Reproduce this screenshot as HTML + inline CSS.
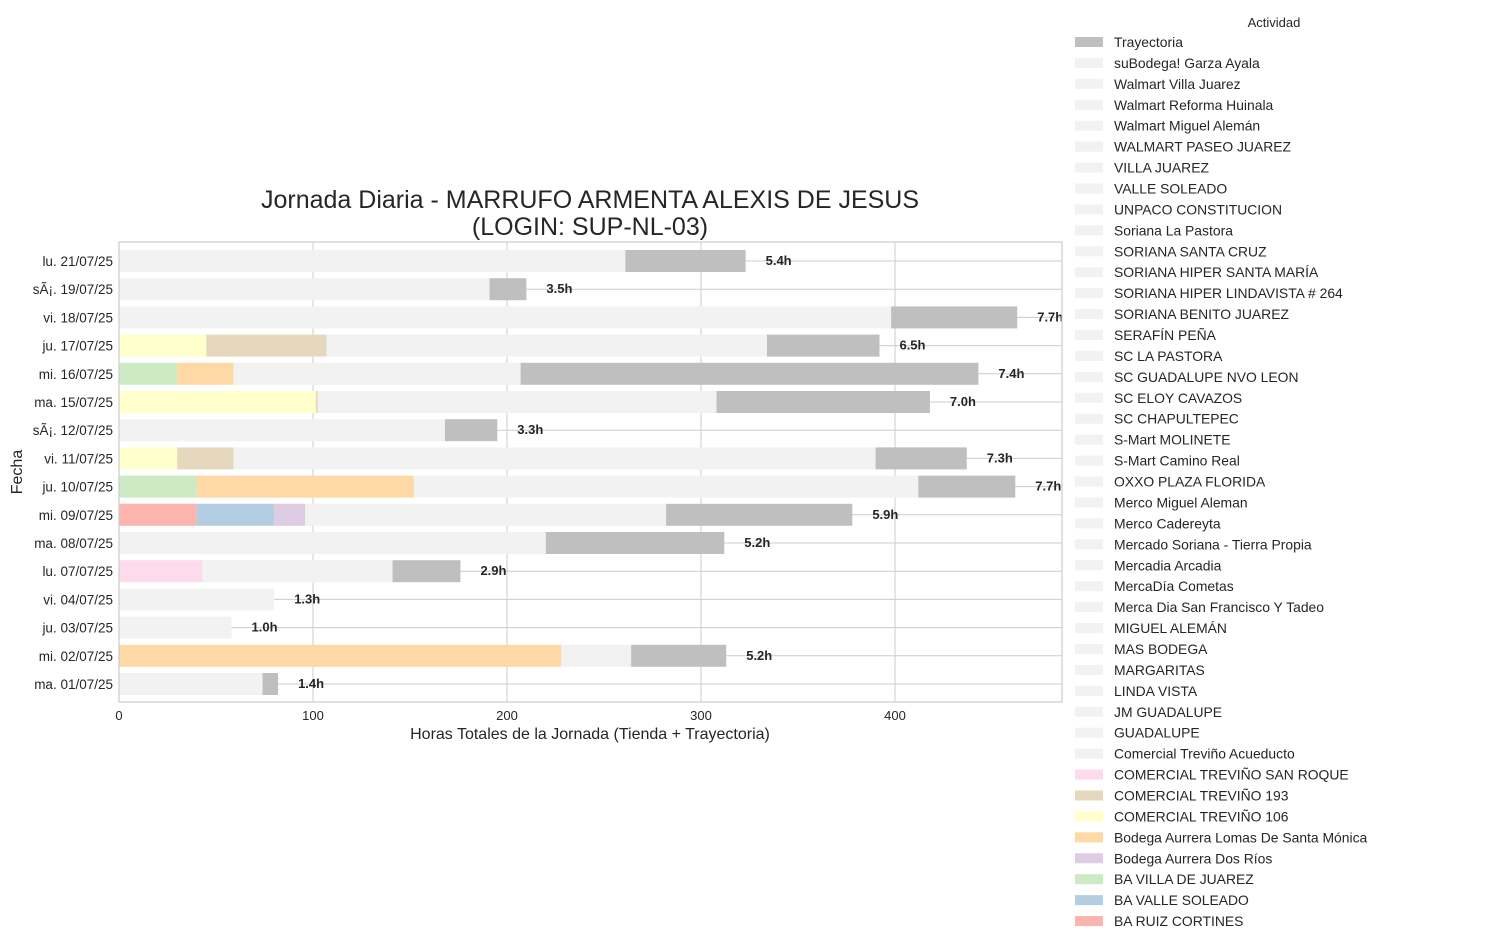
<!DOCTYPE html>
<html><head><meta charset="utf-8">
<style>
body{margin:0;background:#fff;font-family:"Liberation Sans","DejaVu Sans",sans-serif;}
svg text{font-family:"Liberation Sans","DejaVu Sans",sans-serif;}
</style></head>
<body>
<svg id="chart" width="1490" height="945" xmlns="http://www.w3.org/2000/svg"></svg>
<script>
const dates=["lu. 21/07/25","sÃ¡. 19/07/25","vi. 18/07/25","ju. 17/07/25","mi. 16/07/25","ma. 15/07/25","sÃ¡. 12/07/25","vi. 11/07/25","ju. 10/07/25","mi. 09/07/25","ma. 08/07/25","lu. 07/07/25","vi. 04/07/25","ju. 03/07/25","mi. 02/07/25","ma. 01/07/25"];
const segActs=[["S","T"],["S","T"],["S","T"],["Y","N","S","T"],["G","O","S","T"],["Y","N","S","T"],["S","T"],["Y","N","S","T"],["G","O","S","T"],["R","B","P","S","T"],["S","T"],["K","S","T"],["S"],["S"],["O","S","T"],["S","T"]];
const segVals=[[261,62],[191,19],[398,65],[45,62,227,58],[30,29,148,236],[101.5,1,205.5,110],[168,27],[30,29,331,47],[40,112,260,50],[40,40,16,186,96],[220,92],[43,98,35],[80],[58],[228,36,49],[74,8]];
const hourLabels=["5.4h","3.5h","7.7h","6.5h","7.4h","7.0h","3.3h","7.3h","7.7h","5.9h","5.2h","2.9h","1.3h","1.0h","5.2h","1.4h"];
const xTicks=[0,100,200,300,400];
const legendNames=["Trayectoria","suBodega! Garza Ayala","Walmart Villa Juarez","Walmart Reforma Huinala","Walmart Miguel Alemán","WALMART PASEO JUAREZ","VILLA JUAREZ","VALLE SOLEADO","UNPACO CONSTITUCION","Soriana La Pastora","SORIANA SANTA CRUZ","SORIANA HIPER SANTA MARÍA","SORIANA HIPER LINDAVISTA # 264","SORIANA BENITO JUAREZ","SERAFÍN PEÑA","SC LA PASTORA","SC GUADALUPE NVO LEON","SC ELOY CAVAZOS","SC CHAPULTEPEC","S-Mart MOLINETE","S-Mart Camino Real","OXXO PLAZA FLORIDA","Merco Miguel Aleman","Merco Cadereyta","Mercado Soriana - Tierra Propia","Mercadia Arcadia","MercaDía Cometas","Merca Dia San Francisco Y Tadeo","MIGUEL ALEMÁN","MAS BODEGA","MARGARITAS","LINDA VISTA","JM GUADALUPE","GUADALUPE","Comercial Treviño Acueducto","COMERCIAL TREVIÑO SAN ROQUE","COMERCIAL TREVIÑO 193","COMERCIAL TREVIÑO 106","Bodega Aurrera Lomas De Santa Mónica","Bodega Aurrera Dos Ríos","BA VILLA DE JUAREZ","BA VALLE SOLEADO","BA RUIZ CORTINES"];
const legendKeys=["T","S","S","S","S","S","S","S","S","S","S","S","S","S","S","S","S","S","S","S","S","S","S","S","S","S","S","S","S","S","S","S","S","S","S","K","N","Y","O","P","G","B","R"];
const colors={T:"#bfbfbf",S:"#f2f2f2",Y:"#ffffcc",N:"#e5d8bd",G:"#ccebc5",O:"#fed9a6",R:"#fbb4ae",B:"#b3cde3",P:"#decbe4",K:"#fddaec"};

const svg=document.getElementById('chart');
const NS="http://www.w3.org/2000/svg";
function mk(tag,attrs,parent){const e=document.createElementNS(NS,tag);for(const k in attrs)e.setAttribute(k,attrs[k]);(parent||svg).appendChild(e);return e;}
const L=119,R=1062,T=242,B=702;
const xs=v=>L+v*1.94;
const rowStep=(684-261)/15;
const ys=i=>261+i*rowStep;
const barH=22;

xTicks.forEach(t=>{
  const g=mk('line',{x1:xs(t),x2:xs(t),y1:T,y2:B,stroke:"#cccccc","stroke-width":1});
  
  
  const tx=mk('text',{x:xs(t),y:B+18,"text-anchor":"middle","font-size":13,fill:"#262626"});
  tx.textContent=t;
  
  
});
dates.forEach((d,i)=>{
  const g=mk('line',{x1:L,x2:R,y1:ys(i),y2:ys(i),stroke:"#cccccc","stroke-width":1});
  
  
});
dates.forEach((d,i)=>{
  let acc=0;
  segVals[i].forEach((v,j)=>{
    const r=mk('rect',{x:xs(acc),y:ys(i)-barH/2,width:xs(acc+v)-xs(acc),height:barH,fill:colors[segActs[i][j]]});
    
    
    acc+=v;
  });
  const lb=mk('text',{x:xs(acc)+20,y:ys(i)+4,"font-size":13,"font-weight":"bold",fill:"#262626"});
  lb.textContent=hourLabels[i];
  
  
  const yl=mk('text',{x:L-6,y:ys(i)+5,"text-anchor":"end","font-size":13.5,fill:"#262626"});
  yl.textContent=d;
  
  
});
const fr=mk('rect',{x:L,y:T,width:R-L,height:B-T,fill:"none",stroke:"#cccccc","stroke-width":1.2});



const t1=mk('text',{x:590,y:208,"text-anchor":"middle","font-size":25,fill:"#262626"});t1.textContent="Jornada Diaria - MARRUFO ARMENTA ALEXIS DE JESUS";


const t2=mk('text',{x:590,y:235,"text-anchor":"middle","font-size":25,fill:"#262626"});t2.textContent="(LOGIN: SUP-NL-03)";


const xl=mk('text',{x:590,y:739,"text-anchor":"middle","font-size":16,fill:"#262626"});xl.textContent="Horas Totales de la Jornada (Tienda + Trayectoria)";


const yt=mk('text',{x:22,y:472,"text-anchor":"middle","font-size":16,fill:"#262626",transform:"rotate(-90 22 472)"});yt.textContent="Fecha";



const lt=mk('text',{x:1274,y:27,"text-anchor":"middle","font-size":13,fill:"#262626"});lt.textContent="Actividad";


legendNames.forEach((n,i)=>{
  const y=42+i*20.93;
  const p=mk('rect',{x:1075,y:y-5,width:28,height:10,fill:colors[legendKeys[i]]});
  
  
  const tx=mk('text',{x:1114,y:y+5,"font-size":13.9,fill:"#262626"});
  tx.textContent=n;
  
  
});
</script>
</body></html>
